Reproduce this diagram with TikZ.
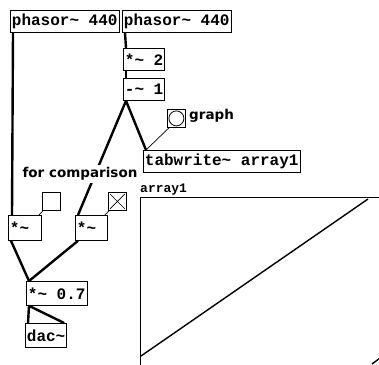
\documentclass[tikz,border=0pt]{standalone}
\usepackage{fontspec}
\newfontfamily\pdmono{Liberation Mono}
\newfontfamily\pdsans{DejaVu Sans}
\tikzset{
  obj/.style={draw, line width=0.8pt, anchor=north west, inner xsep=1.5pt, inner ysep=0pt, minimum height=22pt, font=\pdmono\bfseries\fontsize{16}{16}\selectfont},
  gui/.style={draw, line width=0.8pt, anchor=north west, minimum size=18pt, inner sep=0pt},
  lbl/.style={font=\pdsans\bfseries\fontsize{13.5}{13.5}\selectfont, inner sep=1pt},
  sig/.style={line width=2.4pt},
  ctl/.style={line width=0.7pt}
}
\begin{document}
\begin{tikzpicture}[x=1pt,y=-1pt]
	\useasboundingbox (0,0) rectangle (379,364);
	\clip (0,0) rectangle (379,364);
	% objects
	\node[obj] (phasorA) at (10,10) {phasor\textasciitilde{} 440};
	\node[obj] (phasorB) at (122,10) {phasor\textasciitilde{} 440};
	\node[obj] (mulTwo) at (123,48) {*\textasciitilde{} 2};
	\node[obj] (subOne) at (123,78) {-\textasciitilde{} 1};
	\node[obj] (tabw) at (143,150) {tabwrite\textasciitilde{} array1};
	\node[obj, text width=30pt, minimum height=25pt] (mulA) at (8,215) {*\textasciitilde};
	\node[obj, text width=29pt, minimum height=25pt] (mulB) at (75,215) {*\textasciitilde};
	\node[obj, minimum height=24pt] (mulGain) at (26,281) {*\textasciitilde{} 0.7};
	\node[obj, minimum height=24pt] (dac) at (25,323) {dac\textasciitilde};
	% gui
	\node[gui] (bng) at (167,109) {};
	\draw[line width=0.8pt] (bng.center) circle (7.5pt);
	\node[gui] (tglA) at (42,192) {};
	\node[gui] (tglB) at (108,192) {};
	\draw[line width=0.7pt] ([xshift=2pt,yshift=-2pt]tglB.north west) -- ([xshift=-2pt,yshift=2pt]tglB.south east)
		([xshift=-2pt,yshift=-2pt]tglB.north east) -- ([xshift=2pt,yshift=2pt]tglB.south west);
	\node[lbl, anchor=west] (graphLbl) at (188,116) {graph};
	% array
	\node[font=\pdmono\bfseries\fontsize{13}{13}\selectfont, anchor=base west, inner sep=0pt] (arrLbl) at (140,192) {array1};
	\draw[line width=0.8pt] (140,197) rectangle (385,370);
	\draw[line width=1.4pt] (141,356) -- (368,199);
	\draw[line width=1.4pt] (372,364) -- (380,358);
	% connections
	\draw[sig] ([xshift=3pt]phasorA.south west) -- ([xshift=4pt]mulA.north west);
	\draw[sig] ([xshift=3pt]phasorB.south west) -- ([xshift=3pt]mulTwo.north west);
	\draw[sig] ([xshift=3pt]mulTwo.south west) -- ([xshift=3pt]subOne.north west);
	\draw[sig] ([xshift=3pt]subOne.south west) -- ([xshift=3pt]mulB.north west);
	\draw[sig] ([xshift=3pt]subOne.south west) -- ([xshift=3pt]tabw.north west);
	\draw[ctl] ([xshift=2pt]bng.south west) -- ([xshift=3pt]tabw.north west);
	\draw[ctl] ([xshift=1pt]tglA.south west) -- ([xshift=-3pt]mulA.north east);
	\draw[ctl] ([xshift=1pt]tglB.south west) -- ([xshift=-3pt]mulB.north east);
	\draw[sig] ([xshift=3pt]mulA.south west) -- ([xshift=3pt]mulGain.north west);
	\draw[sig] ([xshift=3pt]mulB.south west) -- ([xshift=3pt]mulGain.north west);
	\draw[sig] ([xshift=3pt]mulGain.south west) -- ([xshift=3pt]dac.north west);
	\draw[sig] ([xshift=3pt]mulGain.south west) -- ([xshift=-3pt]dac.north east);
	\node[lbl, fill=white, inner sep=2pt] (cmpLbl) at (80,174) {for comparison};
\end{tikzpicture}
\end{document}
